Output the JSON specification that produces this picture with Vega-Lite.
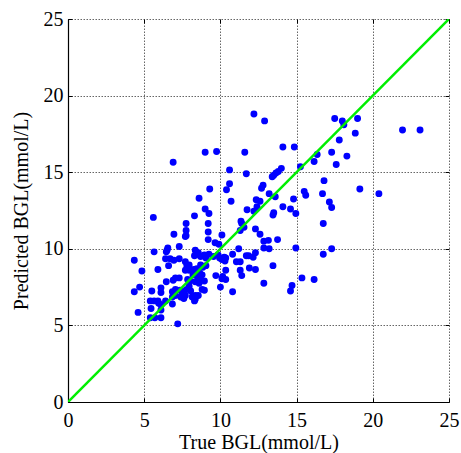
{
  "$schema": "https://vega.github.io/schema/vega-lite/v6.json",
  "autosize": {"type": "none"},
  "width": 381,
  "height": 383,
  "padding": {"left": 68, "top": 19, "right": 12, "bottom": 51},
  "background": "white",
  "config": {
    "font": "Liberation Serif",
    "view": {"stroke": null},
    "axis": {
      "labelFont": "Liberation Serif",
      "titleFont": "Liberation Serif",
      "labelFontSize": 20,
      "titleFontSize": 20,
      "titleFontWeight": "normal",
      "labelColor": "black",
      "titleColor": "black",
      "domainColor": "black",
      "domainWidth": 1.2,
      "tickColor": "black",
      "tickSize": -4,
      "gridColor": "#666666",
      "gridDash": [1.5, 1.5],
      "gridWidth": 1,
      "gridOpacity": 1
    }
  },
  "datasets": {
    "pts": [
      {"t":12.2,"p":18.8},{"t":12.9,"p":18.35},{"t":17.5,"p":18.5},{"t":18.0,"p":18.35},{"t":18.1,"p":18.1},
      {"t":19.0,"p":18.5},{"t":18.85,"p":17.55},{"t":21.95,"p":17.75},{"t":23.1,"p":17.75},{"t":17.8,"p":17.1},
      {"t":14.1,"p":16.65},{"t":14.85,"p":16.65},{"t":9.0,"p":16.3},{"t":9.75,"p":16.35},{"t":11.6,"p":16.3},
      {"t":6.9,"p":15.65},{"t":16.35,"p":16.15},{"t":17.3,"p":16.3},{"t":18.3,"p":16.05},{"t":16.15,"p":15.7},
      {"t":17.6,"p":15.5},{"t":10.6,"p":15.15},{"t":11.7,"p":14.9},{"t":14.0,"p":15.25},{"t":13.8,"p":15.05},
      {"t":13.65,"p":14.95},{"t":13.5,"p":14.8},{"t":13.4,"p":14.7},{"t":15.25,"p":15.35},{"t":10.6,"p":14.25},
      {"t":10.4,"p":13.85},{"t":9.3,"p":13.9},{"t":12.8,"p":14.15},{"t":12.7,"p":13.95},{"t":16.8,"p":14.45},
      {"t":19.15,"p":13.9},{"t":20.4,"p":13.6},{"t":13.2,"p":13.6},{"t":13.6,"p":13.4},{"t":15.5,"p":13.75},
      {"t":15.6,"p":13.5},{"t":16.7,"p":13.6},{"t":8.6,"p":13.3},{"t":10.7,"p":13.1},{"t":12.35,"p":13.2},
      {"t":12.6,"p":13.1},{"t":14.8,"p":13.25},{"t":17.15,"p":13.05},{"t":17.3,"p":12.7},{"t":14.1,"p":12.75},
      {"t":14.6,"p":12.6},{"t":14.95,"p":12.3},{"t":9.0,"p":12.6},{"t":9.25,"p":12.3},{"t":5.6,"p":12.05},
      {"t":8.3,"p":12.15},{"t":11.75,"p":12.55},{"t":12.2,"p":12.45},{"t":12.4,"p":12.75},{"t":13.5,"p":12.35},
      {"t":13.45,"p":12.2},{"t":7.75,"p":11.65},{"t":9.2,"p":11.65},{"t":16.75,"p":11.65},{"t":11.35,"p":11.8},
      {"t":11.4,"p":11.65},{"t":11.3,"p":11.2},{"t":11.55,"p":11.4},{"t":7.75,"p":11.2},{"t":6.95,"p":10.95},
      {"t":7.75,"p":10.85},{"t":7.7,"p":10.8},{"t":9.2,"p":11.1},{"t":10.1,"p":10.9},{"t":12.3,"p":11.3},
      {"t":12.6,"p":10.95},{"t":9.2,"p":10.6},{"t":13.75,"p":10.6},{"t":12.85,"p":10.5},{"t":13.15,"p":10.55},
      {"t":9.65,"p":10.4},{"t":9.9,"p":10.3},{"t":12.85,"p":10.05},{"t":13.2,"p":10.0},{"t":14.95,"p":10.05},
      {"t":17.3,"p":10.0},{"t":11.2,"p":10.0},{"t":7.3,"p":10.15},{"t":6.55,"p":10.05},{"t":5.65,"p":9.8},
      {"t":6.45,"p":9.8},{"t":6.5,"p":9.9},{"t":8.35,"p":9.9},{"t":8.55,"p":9.75},{"t":4.35,"p":9.25},
      {"t":6.4,"p":9.35},{"t":6.7,"p":9.35},{"t":6.95,"p":9.25},{"t":7.3,"p":9.35},{"t":8.3,"p":9.55},
      {"t":8.5,"p":9.65},{"t":8.7,"p":9.5},{"t":8.9,"p":9.55},{"t":9.05,"p":9.4},{"t":8.95,"p":9.6},
      {"t":9.25,"p":9.65},{"t":9.55,"p":9.5},{"t":9.85,"p":9.6},{"t":9.95,"p":9.4},{"t":10.1,"p":9.3},
      {"t":10.3,"p":9.2},{"t":10.25,"p":9.45},{"t":10.8,"p":9.65},{"t":11.7,"p":9.55},{"t":11.85,"p":9.55},
      {"t":12.3,"p":9.75},{"t":12.15,"p":9.45},{"t":10.35,"p":9.4},{"t":11.05,"p":9.15},{"t":11.3,"p":9.15},
      {"t":16.75,"p":9.65},{"t":6.6,"p":8.9},{"t":7.7,"p":9.15},{"t":7.8,"p":8.9},{"t":7.95,"p":8.95},
      {"t":9.05,"p":8.9},{"t":8.85,"p":8.8},{"t":8.7,"p":8.95},{"t":5.9,"p":8.65},{"t":4.85,"p":8.55},
      {"t":7.7,"p":8.6},{"t":7.95,"p":8.6},{"t":8.25,"p":8.65},{"t":8.45,"p":8.7},{"t":10.35,"p":8.6},
      {"t":11.3,"p":8.6},{"t":11.4,"p":8.25},{"t":11.9,"p":8.75},{"t":12.3,"p":8.65},{"t":13.45,"p":8.9},
      {"t":8.65,"p":8.4},{"t":8.5,"p":8.2},{"t":8.2,"p":8.3},{"t":8.8,"p":8.3},{"t":9.7,"p":8.25},
      {"t":10.15,"p":8.2},{"t":10.35,"p":8.0},{"t":10.1,"p":8.05},{"t":7.05,"p":8.1},{"t":7.3,"p":8.1},
      {"t":6.9,"p":7.95},{"t":6.45,"p":7.85},{"t":7.85,"p":8.0},{"t":8.0,"p":7.9},{"t":8.7,"p":7.95},
      {"t":8.95,"p":7.9},{"t":8.6,"p":7.75},{"t":8.35,"p":7.85},{"t":15.35,"p":8.1},{"t":16.15,"p":8.0},
      {"t":12.85,"p":7.75},{"t":10.0,"p":7.5},{"t":14.7,"p":7.6},{"t":14.6,"p":7.25},{"t":10.8,"p":7.2},
      {"t":4.7,"p":7.5},{"t":4.35,"p":7.2},{"t":5.5,"p":7.25},{"t":6.1,"p":7.45},{"t":6.1,"p":7.15},
      {"t":6.85,"p":7.2},{"t":7.05,"p":7.35},{"t":7.35,"p":7.3},{"t":7.6,"p":7.25},{"t":7.8,"p":7.35},
      {"t":7.5,"p":7.05},{"t":7.7,"p":6.95},{"t":7.6,"p":6.75},{"t":7.4,"p":6.85},{"t":7.95,"p":7.55},
      {"t":8.05,"p":7.25},{"t":8.8,"p":7.35},{"t":8.95,"p":7.3},{"t":8.35,"p":6.95},{"t":8.55,"p":6.95},
      {"t":8.15,"p":6.85},{"t":6.85,"p":6.85},{"t":7.05,"p":6.95},{"t":5.4,"p":6.6},{"t":5.65,"p":6.6},
      {"t":5.9,"p":6.6},{"t":6.4,"p":6.6},{"t":5.95,"p":6.45},{"t":6.1,"p":6.35},{"t":6.85,"p":6.4},
      {"t":8.3,"p":6.6},{"t":8.35,"p":6.7},{"t":5.45,"p":6.1},{"t":6.1,"p":6.0},{"t":4.6,"p":5.85},
      {"t":5.4,"p":5.5},{"t":5.7,"p":5.5},{"t":6.1,"p":5.5},{"t":7.2,"p":5.1}
    ],
    "diag": [{"t": 0, "p": 0}, {"t": 25, "p": 25}]
  },
  "resolve": {"axis": {"x": "independent", "y": "independent"}},
  "layer": [
    {
      "data": {"name": "pts"},
      "mark": {"type": "circle", "size": 48, "color": "#0000FF", "opacity": 1},
      "encoding": {
        "x": {"field": "t", "type": "quantitative", "scale": {"domain": [0, 25], "nice": false},
              "axis": {"title": "True BGL(mmol/L)", "values": [0,5,10,15,20,25], "grid": true, "labelFont": "Liberation Serif", "labelFontSize": 20, "titleFont": "Liberation Serif", "labelPadding": 12, "titlePadding": 2, "labelFlush": false}},
        "y": {"field": "p", "type": "quantitative", "scale": {"domain": [0, 25], "nice": false},
              "axis": {"title": "Predicted BGL(mmol/L)", "values": [0,5,10,15,20,25], "grid": true, "labelFont": "Liberation Serif", "labelFontSize": 20, "titleFont": "Liberation Serif", "labelPadding": 9, "titlePadding": 12, "labelFlush": false}}
      }
    },
    {
      "data": {"name": "diag"},
      "mark": {"type": "line", "color": "#00EE00", "strokeWidth": 2.5, "clip": true},
      "encoding": {
        "x": {"field": "t", "type": "quantitative", "scale": {"domain": [0, 25], "nice": false},
              "axis": {"orient": "top", "title": null, "labels": false, "grid": false, "domain": false, "values": [0,5,10,15,20,25]}},
        "y": {"field": "p", "type": "quantitative", "scale": {"domain": [0, 25], "nice": false},
              "axis": {"orient": "right", "title": null, "labels": false, "grid": false, "domain": false, "values": [0,5,10,15,20,25]}}
      }
    }
  ]
}
